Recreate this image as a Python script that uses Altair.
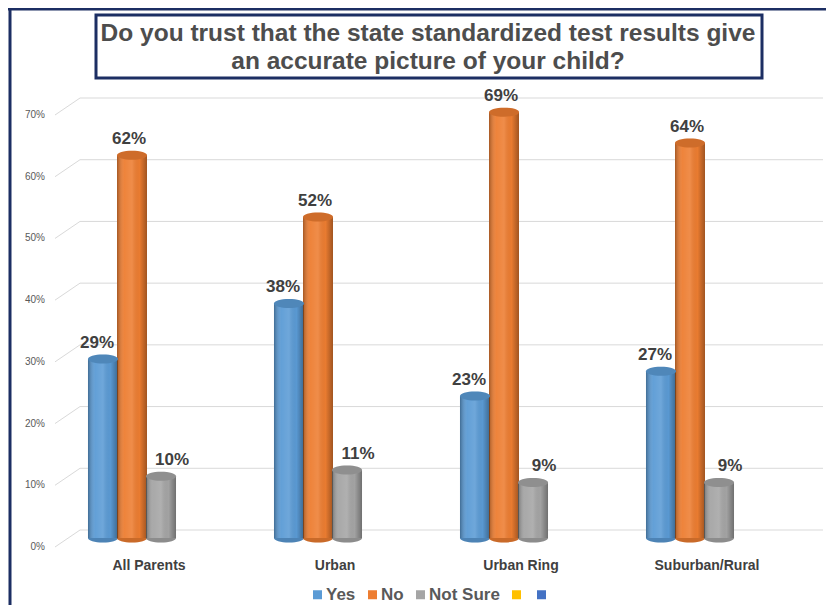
import altair as alt
import pandas as pd

categories = ["All Parents", "Urban", "Urban Ring", "Suburban/Rural"]
series = ["Yes", "No", "Not Sure"]
yes_vals = [29, 38, 23, 27]
no_vals = [62, 52, 69, 64]
notsure_vals = [10, 11, 9, 9]
y_ticks = [0, 10, 20, 30, 40, 50, 60, 70]
legend_domain = ["Yes", "No", "Not Sure", "extra1", "extra2"]
colors = ["#5B9BD5", "#ED7D31", "#A5A5A5", "#FFC000", "#4472C4"]
title_lines = ["Do you trust that the state standardized test results give",
               "an accurate picture of your child?"]

rows = []
for s, vals in zip(series, [yes_vals, no_vals, notsure_vals]):
    for c, v in zip(categories, vals):
        rows.append({"category": c, "series": s, "value": v, "label": f"{v}%"})
df = pd.DataFrame(rows)
ticks_df = pd.DataFrame({"tick": y_ticks, "tick_label": [f"{t}%" for t in y_ticks]})
cat_df = pd.DataFrame({"category": categories})
one = pd.DataFrame({"k": [0]})

FONT = "Liberation Sans"
NAVY = "#1c2e63"
ELL = ("M-1,0C-1,-0.166,-0.552,-0.3,0,-0.3C0.552,-0.3,1,-0.166,1,0"
       "C1,0.166,0.552,0.3,0,0.3C-0.552,0.3,-1,0.166,-1,0Z")

x_sc = alt.Scale(domain=categories, paddingInner=0.532, paddingOuter=0.266)
xo_sc = alt.Scale(domain=series, paddingInner=0, paddingOuter=0)
y_sc = alt.Scale(domain=[0, 70], nice=False, zero=True)
c_sc = alt.Scale(domain=legend_domain, range=colors)

X = alt.X("category:N", scale=x_sc, axis=None)
XO = alt.XOffset("series:N", scale=xo_sc)
Y = alt.Y("value:Q", scale=y_sc, axis=None)
YT = alt.Y("tick:Q", scale=y_sc, axis=None)

legend_def = alt.Legend(
    orient="none", legendX=270, legendY=480, direction="horizontal",
    title=None, symbolType="square", symbolSize=81, symbolStrokeWidth=0,
    symbolOpacity=1, labelFont=FONT, labelFontSize=17, labelFontWeight="bold",
    labelColor="#595959", labelOffset=0, columnPadding=8, padding=0,
    labelExpr="indexof(datum.label, 'extra') == 0 ? '' : datum.label")
color_leg = alt.Color("series:N", scale=c_sc, legend=legend_def)

grad = alt.Gradient(
    gradient="linear", x1=0, x2=1, y1=0, y2=0,
    stops=[alt.GradientStop(offset=0, color="rgba(0,0,0,0.30)"),
           alt.GradientStop(offset=0.25, color="rgba(255,255,255,0.05)"),
           alt.GradientStop(offset=0.5, color="rgba(255,255,255,0.12)"),
           alt.GradientStop(offset=0.75, color="rgba(0,0,0,0.02)"),
           alt.GradientStop(offset=1, color="rgba(0,0,0,0.32)")])

grid = alt.Chart(ticks_df).mark_rule(color="#d9d9d9", strokeWidth=1, yOffset=-8).encode(
    x=alt.value(41), x2=alt.value(784), y=YT)
diag = alt.Chart(ticks_df).mark_rule(color="#d9d9d9", strokeWidth=1, yOffset=9, y2Offset=-8).encode(
    x=alt.value(16), x2=alt.value(41), y=YT, y2=alt.Y2("tick"))
ylabels = alt.Chart(ticks_df).mark_text(
    align="right", baseline="middle", dy=9, font=FONT, fontSize=10, color="#595959").encode(
    x=alt.value(6), y=YT, text="tick_label:N")

bottom = alt.Chart(df).transform_calculate(zero="0").mark_point(
    shape=ELL, size=900, filled=True, opacity=1, strokeWidth=0).encode(
    x=X, xOffset=XO, y=alt.Y("zero:Q", scale=y_sc, axis=None), color=color_leg)
bottom_sh = alt.Chart(df).transform_calculate(zero="0").mark_point(
    shape=ELL, size=900, filled=True, opacity=0.15, strokeWidth=0, color="#000000").encode(
    x=X, xOffset=XO, y=alt.Y("zero:Q", scale=y_sc, axis=None))
bars = alt.Chart(df).mark_bar(width=30).encode(x=X, xOffset=XO, y=Y, color=color_leg)
bars_sh = alt.Chart(df).mark_bar(width=30, color=grad).encode(x=X, xOffset=XO, y=Y)
tops = alt.Chart(df).mark_point(shape=ELL, size=900, filled=True, opacity=1, strokeWidth=0).encode(
    x=X, xOffset=XO, y=Y, color=color_leg)
tops_sh = alt.Chart(df).mark_point(shape=ELL, size=900, filled=True, opacity=0.13,
                                   strokeWidth=0, color="#000000").encode(
    x=X, xOffset=XO, y=Y)

dx_map = {"Yes": -6, "No": -3, "Not Sure": 11}
value_labels = []
for s in series:
    value_labels.append(
        alt.Chart(df).transform_filter(alt.datum.series == s).mark_text(
            dx=dx_map[s], dy=-16, baseline="middle", font=FONT, fontSize=17,
            fontWeight="bold", color="#404040").encode(
            x=X, xOffset=XO, y=Y, text="label:N"))

xlabels = alt.Chart(cat_df).mark_text(
    dx=17, baseline="middle", font=FONT, fontSize=14, fontWeight="bold", color="#404040").encode(
    x=X, y=alt.value(460), text="category:N")

title_box = alt.Chart(one).mark_rect(fill="white", stroke=NAVY, strokeWidth=3).encode(
    x=alt.value(57), x2=alt.value(723), y=alt.value(-91), y2=alt.value(-28))
t1 = alt.Chart(one).mark_text(font=FONT, fontSize=24.5, fontWeight="bold", color="#4d4d4d",
                              baseline="middle").encode(
    x=alt.value(389), y=alt.value(-72), text=alt.value(title_lines[0]))
t2 = alt.Chart(one).mark_text(font=FONT, fontSize=24.5, fontWeight="bold", color="#4d4d4d",
                              baseline="middle").encode(
    x=alt.value(389), y=alt.value(-44), text=alt.value(title_lines[1]))

frame_top = alt.Chart(one).mark_rule(color=NAVY, strokeWidth=3).encode(
    x=alt.value(-31), x2=alt.value(790), y=alt.value(-97))
frame_left = alt.Chart(one).mark_rule(color=NAVY, strokeWidth=3).encode(
    x=alt.value(-29), y=alt.value(-98), y2=alt.value(500))

chart = alt.layer(
    grid, diag, ylabels, bottom, bottom_sh, bars, bars_sh, tops, tops_sh,
    *value_labels, xlabels, title_box, t1, t2, frame_top, frame_left
).properties(
    width=744, height=432,
    padding={"left": 31, "top": 98, "right": 43, "bottom": 67},
    autosize=alt.AutoSizeParams(type="none"),
).configure_view(stroke=None)

chart.save("out.html", embed_options={"renderer": "svg", "actions": False})
